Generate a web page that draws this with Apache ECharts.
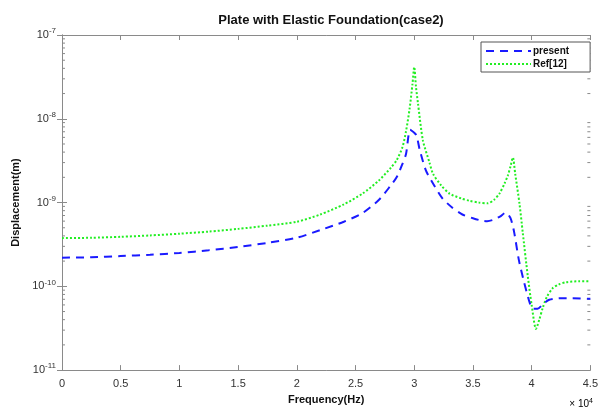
<!DOCTYPE html>
<html>
<head>
<meta charset="utf-8">
<script src="https://cdn.jsdelivr.net/npm/echarts@6/dist/echarts.min.js"></script>
<style>
  html, body { margin: 0; padding: 0; background: #fff; }
  #main { width: 601px; height: 410px; }
</style>
</head>
<body>
<div id="main"></div>
<script>
// data (frequency in Hz, displacement in m)
var presentFreq = [0, 2500, 5000, 7500, 10000, 12500, 15000, 17500, 20000, 22000, 24000, 25600, 27000, 28000, 28500, 29000, 29300, 29650, 30000, 30200, 30460, 31000, 31700, 32400, 33200, 34100, 35000, 35600, 36200, 36700, 37300, 37800, 38200, 38500, 38900, 39300, 39800, 40100, 40500, 41000, 41500, 42500, 43500, 45000];
var presentDisp = [2.2e-10, 2.22e-10, 2.3e-10, 2.38e-10, 2.5e-10, 2.7e-10, 2.95e-10, 3.3e-10, 3.8e-10, 4.7e-10, 5.9e-10, 7.5e-10, 1.08e-9, 1.6e-9, 2.0e-9, 2.9e-9, 3.8e-9, 7.4e-9, 6.8e-9, 6.3e-9, 4.3e-9, 2.4e-9, 1.6e-9, 1.12e-9, 8.8e-10, 7.2e-10, 6.5e-10, 6.15e-10, 6.0e-10, 6.2e-10, 6.8e-10, 7.6e-10, 6.5e-10, 4.5e-10, 2.1e-10, 1.2e-10, 6.6e-11, 5.4e-11, 5.4e-11, 6.2e-11, 6.9e-11, 7.2e-11, 7.2e-11, 7.1e-11];

var refFreq = [0, 2500, 5000, 7500, 10000, 12500, 15000, 17500, 20000, 22000, 24000, 25600, 27000, 28000, 28500, 29000, 29300, 29600, 29850, 30000, 30150, 30320, 30740, 31300, 31600, 32300, 33000, 34000, 34700, 35500, 36260, 36800, 37260, 37700, 37970, 38200, 38400, 38600, 38960, 39240, 39660, 40000, 40370, 40650, 40940, 41300, 41790, 42300, 42930, 44000, 45000];
var refDisp = [3.76e-10, 3.8e-10, 3.9e-10, 4.05e-10, 4.25e-10, 4.5e-10, 4.85e-10, 5.3e-10, 5.9e-10, 7.2e-10, 9.5e-10, 1.28e-9, 1.84e-9, 2.6e-9, 3.2e-9, 4.6e-9, 7.1e-9, 1.3e-8, 2.6e-8, 4.15e-8, 2.4e-8, 1.52e-8, 5.5e-9, 3.0e-9, 2.2e-9, 1.6e-9, 1.28e-9, 1.12e-9, 1.05e-9, 1.0e-9, 9.8e-10, 1.08e-9, 1.28e-9, 1.7e-9, 2.1e-9, 2.7e-9, 3.45e-9, 2.2e-9, 9.8e-10, 4.4e-10, 1.36e-10, 6.0e-11, 3.1e-11, 4.0e-11, 5.5e-11, 7.5e-11, 9.5e-11, 1.05e-10, 1.12e-10, 1.15e-10, 1.15e-10];

var xTicks = [0, 0.5, 1, 1.5, 2, 2.5, 3, 3.5, 4, 4.5];
var yDecades = [1e-11, 1e-10, 1e-9, 1e-8];
var minorMantissa = [2, 3, 4, 5, 6, 7, 8, 9];

function pairs(xs, ys) {
  var out = [];
  for (var i = 0; i < xs.length; i++) out.push([xs[i], ys[i]]);
  return out;
}

// matlab style log minor ticks (2..9 x 10^n)
var minorTicks = [];
yDecades.forEach(function (d) {
  minorMantissa.forEach(function (m) { minorTicks.push([0, m * d]); });
});

var axisColor = '#8a8a8a';
var textColor = '#333';

var chart = echarts.init(document.getElementById('main'));
chart.setOption({
  backgroundColor: '#fff',
  animation: false,
  title: {
    text: 'Plate with Elastic Foundation(case2)',
    left: 326,
    textAlign: 'center',
    top: 9,
    textStyle: { fontFamily: 'Liberation Sans', fontSize: 13, fontWeight: 'bold', color: '#111' }
  },
  graphic: [{
    type: 'text',
    right: 8,
    bottom: 1,
    style: {
      text: '{a|\u00d7 10}{b|4}',
      rich: {
        a: { fontFamily: 'Liberation Sans', fontSize: 10, color: textColor },
        b: { fontFamily: 'Liberation Sans', fontSize: 7, color: textColor, verticalAlign: 'top', padding: [0, 0, 6, 0] }
      }
    }
  }],
  legend: {
    orient: 'vertical',
    left: 481,
    top: 42,
    itemWidth: 45,
    itemHeight: 10,
    itemGap: 3,
    padding: [4, 21, 3, 4],
    borderColor: '#555',
    borderWidth: 1,
    backgroundColor: '#fff',
    itemStyle: { opacity: 0 },
    textStyle: { fontFamily: 'Liberation Sans', fontSize: 10, fontWeight: 'bold', color: '#111', padding: [0, 0, 0, -3] },
    data: ['present', 'Ref[12]']
  },
  grid: { left: 62, right: 10, top: 35, bottom: 33 },
  xAxis: [{
    type: 'value',
    min: 0,
    max: 45000,
    interval: 5000,
    name: 'Frequency(Hz)',
    nameLocation: 'middle',
    nameGap: 21,
    nameTextStyle: { fontFamily: 'Liberation Sans', fontSize: 11, fontWeight: 'bold', color: '#111' },
    axisLine: { lineStyle: { color: axisColor, width: 1 } },
    axisTick: { inside: true, length: 5, lineStyle: { color: axisColor } },
    axisLabel: {
      margin: 8,
      fontFamily: 'Liberation Sans', fontSize: 11, color: textColor,
      formatter: function (v) { var t = v / 10000; return xTicks.indexOf(t) >= 0 ? String(t) : ''; }
    },
    splitLine: { show: false }
  }, {
    type: 'value',
    position: 'top',
    min: 0,
    max: 45000,
    interval: 5000,
    axisLine: { show: true, lineStyle: { color: axisColor, width: 1 } },
    axisTick: { inside: true, length: 5, lineStyle: { color: axisColor } },
    axisLabel: { show: false },
    splitLine: { show: false }
  }],
  yAxis: [{
    type: 'log',
    min: 1e-11,
    max: 1e-7,
    logBase: 10,
    name: 'Displacement(m)',
    nameLocation: 'middle',
    nameGap: 40,
    nameTextStyle: { fontFamily: 'Liberation Sans', fontSize: 11, fontWeight: 'bold', color: '#111' },
    axisLine: { show: true, lineStyle: { color: axisColor, width: 1 } },
    axisTick: { inside: true, length: 5, lineStyle: { color: axisColor } },
    axisLabel: {
      margin: 6,
      formatter: function (v) { return '{b|10}{s|' + Math.round(Math.log10(v)) + '}'; },
      rich: {
        b: { fontFamily: 'Liberation Sans', fontSize: 11, color: textColor },
        s: { fontFamily: 'Liberation Sans', fontSize: 8, color: textColor, verticalAlign: 'top', padding: [0, 0, 8, 0] }
      }
    },
    splitLine: { show: false }
  }, {
    type: 'log',
    position: 'right',
    min: 1e-11,
    max: 1e-7,
    logBase: 10,
    axisLine: { show: true, lineStyle: { color: axisColor, width: 1 } },
    axisTick: { inside: true, length: 5, lineStyle: { color: axisColor } },
    axisLabel: { show: false },
    splitLine: { show: false }
  }],
  series: [{
    name: 'minor',
    type: 'custom',
    silent: true,
    data: minorTicks,
    renderItem: function (params, api) {
      var v = api.value(1);
      var l = api.coord([0, v]);
      var r = api.coord([45000, v]);
      var st = { stroke: axisColor, lineWidth: 1 };
      return {
        type: 'group',
        children: [
          { type: 'line', shape: { x1: l[0], y1: l[1], x2: l[0] + 3, y2: l[1] }, style: st },
          { type: 'line', shape: { x1: r[0], y1: r[1], x2: r[0] - 3, y2: r[1] }, style: st }
        ]
      };
    },
    z: 1
  }, {
    name: 'present',
    type: 'line',
    data: pairs(presentFreq, presentDisp),
    showSymbol: false,
    symbol: 'none',
    smooth: 0.25,
    color: '#1a1aff',
    lineStyle: { color: '#1a1aff', width: 2, type: [8, 6] },
    z: 3
  }, {
    name: 'Ref[12]',
    type: 'line',
    data: pairs(refFreq, refDisp),
    showSymbol: false,
    symbol: 'none',
    smooth: 0.25,
    color: '#22ee22',
    lineStyle: { color: '#22ee22', width: 2, type: [2, 2] },
    z: 2
  }]
});
</script>
</body>
</html>
